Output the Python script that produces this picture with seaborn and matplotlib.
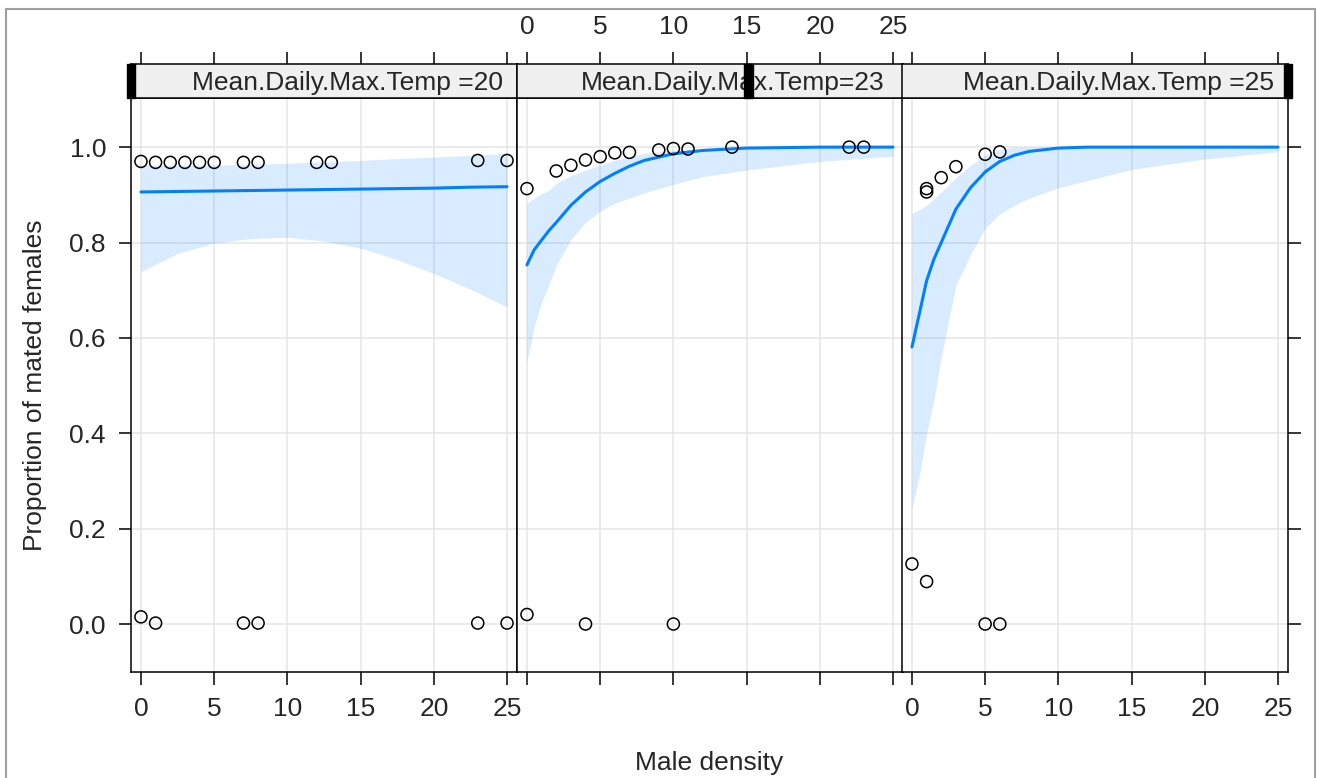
import numpy as np
import matplotlib
matplotlib.use("Agg")
import matplotlib.pyplot as plt
from matplotlib.patches import Rectangle
import seaborn as sns

sns.set_theme(style="white")
plt.rcParams["font.family"] = ["Liberation Sans", "DejaVu Sans"]

# facet levels
temps = [20, 23, 25]
strip_labels = ["Mean.Daily.Max.Temp =20", "Mean.Daily.Max.Temp=23",
                "Mean.Daily.Max.Temp =25"]

# observed proportions
obs_x_20 = [0, 1, 2, 3, 4, 5, 7, 8, 12, 13, 23, 25, 0, 1, 7, 8, 23, 25]
obs_y_20 = [0.970, 0.968, 0.968, 0.968, 0.968, 0.968, 0.968, 0.968, 0.968,
            0.968, 0.972, 0.972, 0.015, 0.002, 0.002, 0.002, 0.002, 0.002]
obs_x_23 = [0, 2, 3, 4, 5, 6, 7, 9, 10, 11, 14, 22, 23, 0, 4, 10]
obs_y_23 = [0.913, 0.950, 0.962, 0.973, 0.980, 0.988, 0.989, 0.994, 0.997,
            0.996, 1.0, 1.0, 1.0, 0.02, 0.0, 0.0]
obs_x_25 = [1, 1, 2, 3, 5, 6, 0, 1, 5, 6]
obs_y_25 = [0.913, 0.906, 0.936, 0.959, 0.985, 0.990, 0.126, 0.089, 0.0, 0.0]

# fitted effect with confidence band
fit_x_20 = [0, 2.5, 5, 7.5, 10, 12.5, 15, 17.5, 20, 22.5, 25]
fit_20 = [0.906, 0.907, 0.908, 0.909, 0.910, 0.911, 0.912, 0.913, 0.914,
          0.916, 0.917]
lo_20 = [0.739, 0.777, 0.799, 0.808, 0.811, 0.803, 0.788, 0.764, 0.735,
         0.702, 0.665]
hi_20 = [0.962, 0.962, 0.962, 0.964, 0.966, 0.969, 0.972, 0.976, 0.979,
         0.983, 0.987]

fit_x_23 = [0, 0.5, 1, 1.5, 2, 3, 4, 5, 6, 7, 8, 10, 12, 15, 20, 25]
fit_23 = [0.753, 0.785, 0.805, 0.825, 0.842, 0.878, 0.906, 0.928, 0.945,
          0.960, 0.972, 0.986, 0.993, 0.998, 1.0, 1.0]
lo_23 = [0.550, 0.625, 0.675, 0.712, 0.752, 0.806, 0.842, 0.866, 0.882,
         0.893, 0.904, 0.922, 0.938, 0.952, 0.970, 0.981]
hi_23 = [0.882, 0.893, 0.902, 0.910, 0.924, 0.940, 0.952, 0.962, 0.973,
         0.980, 0.987, 0.993, 0.996, 0.998, 1.0, 1.0]

fit_x_25 = [0, 0.5, 1, 1.5, 2, 3, 4, 5, 6, 7, 8, 10, 12, 15, 20, 25]
fit_25 = [0.581, 0.650, 0.720, 0.765, 0.800, 0.870, 0.915, 0.948, 0.970,
          0.983, 0.991, 0.998, 1.0, 1.0, 1.0, 1.0]
lo_25 = [0.243, 0.310, 0.400, 0.470, 0.560, 0.710, 0.775, 0.830, 0.860,
         0.878, 0.893, 0.915, 0.930, 0.953, 0.975, 0.990]
hi_25 = [0.861, 0.868, 0.878, 0.892, 0.906, 0.936, 0.962, 0.984, 0.995,
         1.0, 1.0, 1.0, 1.0, 1.0, 1.0, 1.0]

obs_x = [obs_x_20, obs_x_23, obs_x_25]
obs_y = [obs_y_20, obs_y_23, obs_y_25]
fit_x = [fit_x_20, fit_x_23, fit_x_25]
fits = [fit_20, fit_23, fit_25]
los = [lo_20, lo_23, lo_25]
his = [hi_20, hi_23, hi_25]

x_ticks = [0, 5, 10, 15, 20, 25]
y_ticks = [0.0, 0.2, 0.4, 0.6, 0.8, 1.0]

W, H = 1317, 778
FS = 19
line_col = "#0080ff"

fig = plt.figure(figsize=(W / 100, H / 100), dpi=100)
fig.patches.append(Rectangle((6 / W, -0.05), 1309 / W, 1.05 - 9 / H,
                             transform=fig.transFigure, fill=False,
                             edgecolor="#a0a0a0", linewidth=1.5))

panel_left = [131, 517, 902]
panel_w = 386
for i, t in enumerate(temps):
    left = panel_left[i] / W
    ax = fig.add_axes([left, 1 - 672 / H, panel_w / W, 574 / H])
    sx = fig.add_axes([left, 1 - 98 / H, panel_w / W, 34 / H])

    ax.set_xlim(-0.68, 25.68)
    ax.set_ylim(-0.1006, 1.103)
    for v in x_ticks:
        ax.axvline(v, color="#e6e6e6", lw=1.1, zorder=0)
    for v in y_ticks:
        ax.axhline(v, color="#e6e6e6", lw=1.1, zorder=0)

    ax.fill_between(fit_x[i], los[i], his[i], color=line_col, alpha=0.15,
                    linewidth=0, zorder=1)
    sns.lineplot(x=fit_x[i], y=fits[i], ax=ax, color=line_col, linewidth=2.2,
                 estimator=None, sort=False, zorder=2)
    sns.scatterplot(x=obs_x[i], y=obs_y[i], ax=ax, marker="o", s=75,
                    facecolor="none", edgecolor="black", linewidth=1.1,
                    zorder=3)

    for sp in ax.spines.values():
        sp.set_color("black")
        sp.set_linewidth(1.1)
    ax.set_xticks(x_ticks)
    ax.set_yticks(y_ticks)
    ax.tick_params(axis="both", direction="out", length=9, width=1.1,
                   color="black", labelsize=FS, pad=9)
    ax.tick_params(axis="x", bottom=True, top=False, labelbottom=(i != 1))
    ax.tick_params(axis="y", left=(i == 0), labelleft=(i == 0),
                   right=(i == 2), labelright=False)
    ax.set_xlabel("")
    ax.set_ylabel("")

    # strip
    sx.set_xlim(-0.68, 25.68)
    sx.set_ylim(0, 1)
    sx.set_facecolor("#f0f0f0")
    for sp in sx.spines.values():
        sp.set_color("black")
        sp.set_linewidth(1.1)
    sx.set_yticks([])
    sx.set_xticks(x_ticks)
    sx.tick_params(axis="x", bottom=False, labelbottom=False, top=True,
                   labeltop=(i == 1), direction="out", length=9, width=1.1,
                   color="black", labelsize=FS, pad=9)
    frac = (t - temps[0]) / (temps[-1] - temps[0])
    sx.text(0.56, 0.45, strip_labels[i], transform=sx.transAxes,
            ha="center", va="center", fontsize=FS, zorder=2)
    sx.add_patch(Rectangle((frac - 0.011, 0), 0.022, 1,
                           transform=sx.transAxes, color="black",
                           clip_on=False, zorder=5))

fig.text(709.5 / W, 1 - 763 / H, "Male density", ha="center", va="center",
         fontsize=FS)
fig.text(35 / W, 1 - 385 / H, "Proportion of mated females", ha="center",
         va="center", rotation=90, fontsize=FS)

fig.savefig("out.png", dpi=100)
